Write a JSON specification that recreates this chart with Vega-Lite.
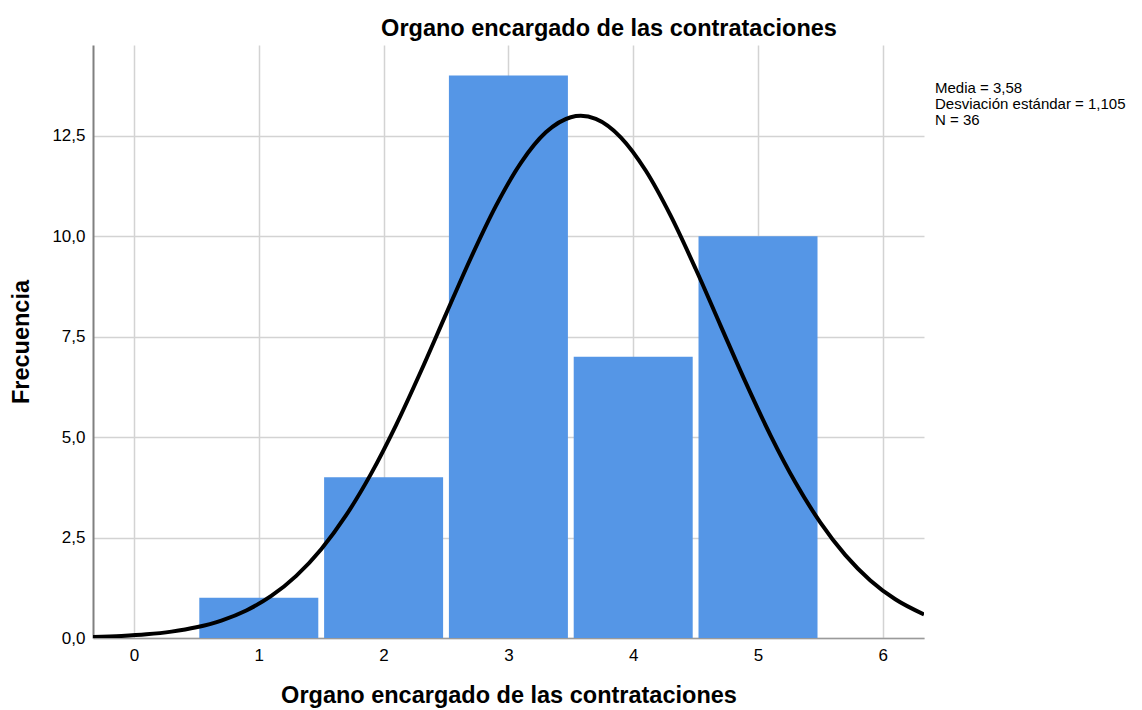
{
  "$schema": "https://vega.github.io/schema/vega-lite/v6.json",
  "width": 831,
  "height": 593,
  "autosize": {"type": "none"},
  "padding": {"left": 93, "top": 45, "right": 218, "bottom": 72},
  "background": "white",
  "config": {
    "font": "Liberation Sans",
    "view": {"stroke": null},
    "axis": {"labelFont": "Liberation Sans", "titleFont": "Liberation Sans"}
  },
  "title": {
    "text": "Organo encargado de las contrataciones",
    "fontSize": 23.5,
    "fontWeight": "bold",
    "color": "#000000",
    "anchor": "middle",
    "dx": 100.5,
    "offset": 5
  },
  "datasets": {
    "bars": [
      {"valor": 1, "frecuencia": 1},
      {"valor": 2, "frecuencia": 4},
      {"valor": 3, "frecuencia": 14},
      {"valor": 4, "frecuencia": 7},
      {"valor": 5, "frecuencia": 10}
    ],
    "curve": [
      {"x": -0.33, "y": 0.025},
      {"x": -0.1, "y": 0.051},
      {"x": 0.1, "y": 0.091},
      {"x": 0.3, "y": 0.159},
      {"x": 0.5, "y": 0.267},
      {"x": 0.7, "y": 0.435},
      {"x": 0.9, "y": 0.686},
      {"x": 1.1, "y": 1.047},
      {"x": 1.3, "y": 1.547},
      {"x": 1.5, "y": 2.211},
      {"x": 1.7, "y": 3.057},
      {"x": 1.9, "y": 4.091},
      {"x": 2.1, "y": 5.3},
      {"x": 2.3, "y": 6.645},
      {"x": 2.5, "y": 8.062},
      {"x": 2.7, "y": 9.465},
      {"x": 2.9, "y": 10.755},
      {"x": 3.1, "y": 11.827},
      {"x": 3.3, "y": 12.586},
      {"x": 3.5, "y": 12.963},
      {"x": 3.58, "y": 12.997},
      {"x": 3.7, "y": 12.921},
      {"x": 3.9, "y": 12.463},
      {"x": 4.1, "y": 11.635},
      {"x": 4.3, "y": 10.511},
      {"x": 4.5, "y": 9.19},
      {"x": 4.7, "y": 7.776},
      {"x": 4.9, "y": 6.367},
      {"x": 5.1, "y": 5.046},
      {"x": 5.3, "y": 3.87},
      {"x": 5.5, "y": 2.873},
      {"x": 5.7, "y": 2.063},
      {"x": 5.9, "y": 1.434},
      {"x": 6.1, "y": 0.965},
      {"x": 6.33, "y": 0.588}
    ],
    "stats": [
      {"stat": "Media = 3,58"},
      {"stat": "Desviación estándar = 1,105"},
      {"stat": "N = 36"}
    ]
  },
  "layer": [
    {
      "data": {"name": "bars"},
      "mark": {"type": "bar", "width": 119, "color": "#5596e6"},
      "encoding": {
        "x": {
          "field": "valor",
          "type": "quantitative",
          "scale": {"domain": [-0.3285, 6.33], "nice": false, "zero": false, "padding": 0},
          "axis": {
            "values": [0, 1, 2, 3, 4, 5, 6],
            "format": "d",
            "title": "Organo encargado de las contrataciones",
            "titleFontSize": 23.5,
            "titleFontWeight": "bold",
            "titleColor": "#000000",
            "titlePadding": 20,
            "labelFontSize": 17,
            "labelColor": "#000000",
            "labelPadding": 9,
            "ticks": false,
            "grid": true,
            "gridColor": "#d3d3d3",
            "gridWidth": 1.5,
            "domainColor": "#9a9a9a",
            "domainWidth": 1.5
          }
        },
        "y": {
          "field": "frecuencia",
          "type": "quantitative",
          "scale": {"domain": [0, 14.76], "nice": false, "padding": 0},
          "axis": {
            "values": [0, 2.5, 5, 7.5, 10, 12.5],
            "labelExpr": "replace(format(datum.value, '.1f'), '.', ',')",
            "title": "Frecuencia",
            "titleFontSize": 23.5,
            "titleFontWeight": "bold",
            "titleColor": "#000000",
            "titlePadding": 18,
            "labelFontSize": 17,
            "labelColor": "#000000",
            "labelPadding": 8,
            "ticks": false,
            "grid": true,
            "gridColor": "#d3d3d3",
            "gridWidth": 1.5,
            "domainColor": "#808080",
            "domainWidth": 2
          }
        }
      }
    },
    {
      "data": {"name": "curve"},
      "mark": {"type": "line", "color": "#000000", "strokeWidth": 4, "interpolate": "monotone", "clip": true},
      "encoding": {
        "x": {"field": "x", "type": "quantitative"},
        "y": {"field": "y", "type": "quantitative"}
      }
    },
    {
      "data": {"name": "stats"},
      "mark": {"type": "point", "opacity": 0},
      "encoding": {
        "color": {
          "field": "stat",
          "type": "nominal",
          "scale": {"domain": ["Media = 3,58", "Desviación estándar = 1,105", "N = 36"], "range": ["#000000", "#000000", "#000000"]},
          "legend": {
            "title": null,
            "orient": "none",
            "legendX": 827,
            "legendY": 35,
            "symbolSize": 0,
            "symbolOpacity": 0,
            "symbolStrokeWidth": 0,
            "labelOffset": 0,
            "labelFontSize": 15,
            "labelLimit": 400,
            "labelColor": "#000000",
            "rowPadding": -0.5,
            "padding": 0
          }
        }
      }
    }
  ]
}
